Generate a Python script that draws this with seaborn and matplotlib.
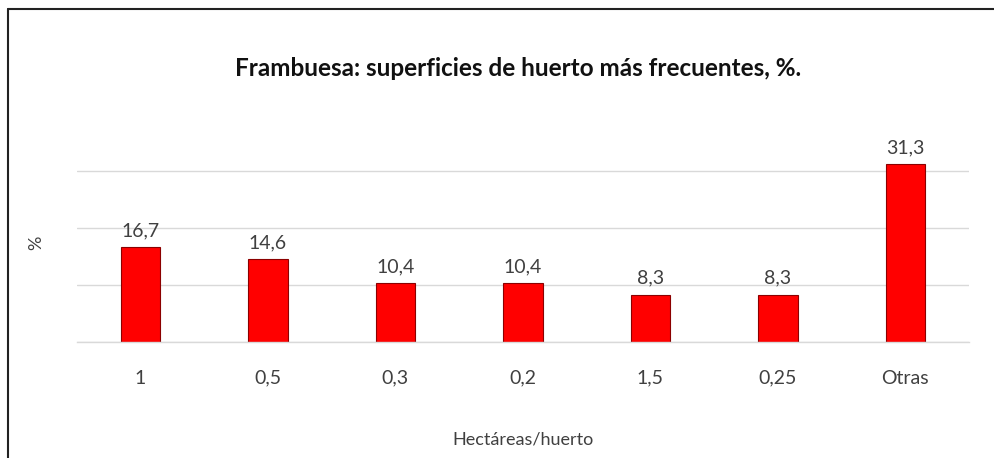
import pandas as pd
import matplotlib.pyplot as plt
from matplotlib.lines import Line2D
import seaborn as sns

# ── Datos ────────────────────────────────────────────────────────────────────
categorias = ['1', '0,5', '0,3', '0,2', '1,5', '0,25', 'Otras']
porcentajes = [16.7, 14.6, 10.4, 10.4, 8.3, 8.3, 31.3]

sns.set_theme(style='white')
plt.rcParams['font.family'] = ['Lato', 'DejaVu Sans']

df = pd.DataFrame({'cat': categorias, 'pct': porcentajes})

fig = plt.figure(figsize=(9.94, 4.58), dpi=100)
ax = fig.add_axes([0.077, 0.2533, 0.898, 0.4345])

sns.barplot(data=df, x='cat', y='pct', ax=ax, color='#ff0000', width=0.31,
            edgecolor='#8b0000', linewidth=0.8, saturation=1)

ax.set_ylim(0, 35)
ax.set_yticks([0, 10, 20, 30])
ax.set_yticklabels([])
ax.tick_params(axis='y', length=0)
ax.tick_params(axis='x', length=0, labelsize=14, colors='#404040', pad=20)
ax.grid(axis='y', color='#d9d9d9', linewidth=1)
ax.set_axisbelow(True)
for s in ax.spines.values():
    s.set_visible(False)
# línea base
ax.spines['bottom'].set_visible(True)
ax.spines['bottom'].set_color('#d9d9d9')
ax.spines['bottom'].set_linewidth(1)

for p, v in zip(ax.patches, porcentajes):
    ax.text(p.get_x() + p.get_width() / 2, v + 1.4, f'{v:.1f}'.replace('.', ','),
            ha='center', va='bottom', fontsize=14, color='#404040')

ax.set_xlabel('Hectáreas/huerto', fontsize=13, color='#404040', labelpad=32)
ax.set_ylabel('%', fontsize=13, color='#404040', labelpad=20)

fig.text(0.521, 0.85, 'Frambuesa: superficies de huerto más frecuentes, %.',
         ha='center', va='center', fontsize=17.5, fontweight='bold', color='#111111')

# marco
fig.add_artist(Line2D([8 / 994, 1.0], [1 - 9 / 458, 1 - 9 / 458],
                      transform=fig.transFigure, color='#222222', linewidth=1.5))
fig.add_artist(Line2D([8 / 994, 8 / 994], [0, 1 - 9 / 458],
                      transform=fig.transFigure, color='#222222', linewidth=1.5))

fig.savefig('out.png', dpi=100)
